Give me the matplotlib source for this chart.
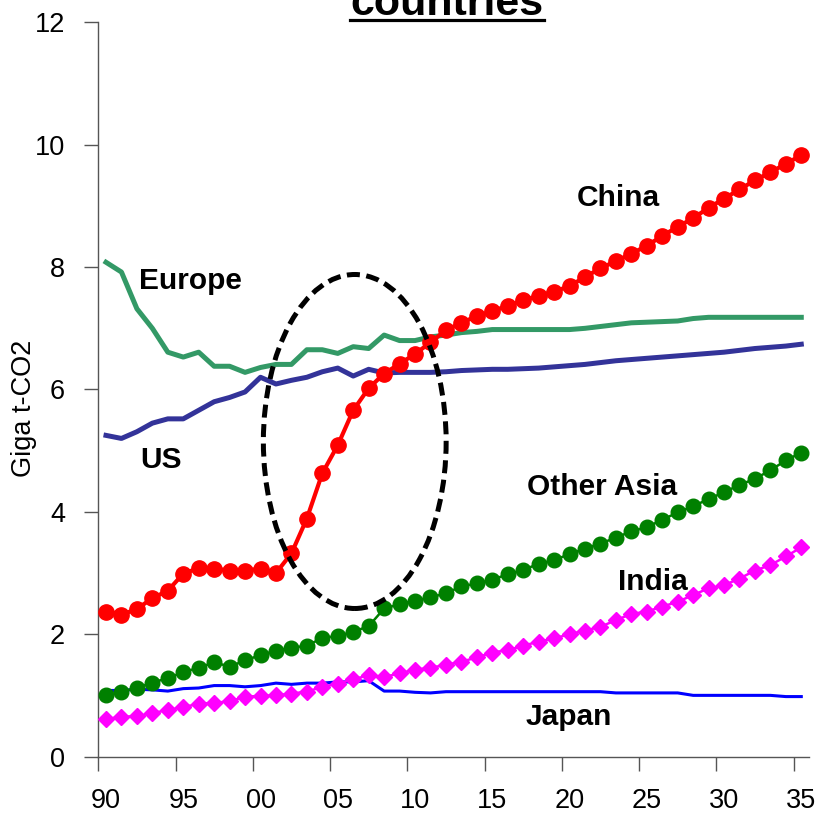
import matplotlib
matplotlib.use("Agg")
import matplotlib.pyplot as plt
from matplotlib.patches import Ellipse
from matplotlib.lines import Line2D

plt.rcParams['font.family'] = ['Liberation Sans', 'DejaVu Sans']

# años 1990..2035, etiquetas de dos cifras
years = list(range(1990, 2036))
tick_labels = ['90', '95', '00', '05', '10', '15', '20', '25', '30', '35']

# Giga t-CO2
europe = [8.08, 7.92, 7.32, 7.00, 6.61, 6.53, 6.61, 6.38, 6.38, 6.28,
          6.36, 6.41, 6.41, 6.65, 6.65, 6.59, 6.70, 6.67, 6.89, 6.80,
          6.80, 6.86, 6.89, 6.93, 6.95, 6.98, 6.98, 6.98, 6.98, 6.98,
          6.98, 7.00, 7.03, 7.06, 7.09, 7.10, 7.11, 7.12, 7.16, 7.18,
          7.18, 7.18, 7.18, 7.18, 7.18, 7.18]
us = [5.25, 5.20, 5.31, 5.45, 5.52, 5.52, 5.66, 5.80, 5.87, 5.96,
      6.20, 6.09, 6.15, 6.20, 6.29, 6.35, 6.22, 6.33, 6.27, 6.28,
      6.28, 6.28, 6.29, 6.31, 6.32, 6.33, 6.33, 6.34, 6.35, 6.37,
      6.39, 6.41, 6.44, 6.47, 6.49, 6.51, 6.53, 6.55, 6.57, 6.59,
      6.61, 6.64, 6.67, 6.69, 6.71, 6.74]
china = [2.37, 2.32, 2.41, 2.59, 2.71, 2.99, 3.08, 3.07, 3.04, 3.04,
         3.07, 3.00, 3.32, 3.89, 4.63, 5.09, 5.66, 6.02, 6.26, 6.42,
         6.58, 6.77, 6.97, 7.09, 7.20, 7.28, 7.37, 7.46, 7.53, 7.60,
         7.69, 7.84, 7.98, 8.10, 8.22, 8.35, 8.51, 8.66, 8.80, 8.97,
         9.12, 9.27, 9.42, 9.55, 9.69, 9.83]
other_asia = [1.00, 1.06, 1.12, 1.21, 1.28, 1.38, 1.45, 1.54, 1.47, 1.57,
              1.66, 1.73, 1.78, 1.81, 1.94, 1.97, 2.04, 2.13, 2.42, 2.49,
              2.55, 2.60, 2.67, 2.78, 2.83, 2.89, 2.98, 3.05, 3.15, 3.21,
              3.31, 3.40, 3.48, 3.58, 3.68, 3.75, 3.87, 3.99, 4.09, 4.21,
              4.32, 4.44, 4.54, 4.68, 4.84, 4.97]
india = [0.61, 0.65, 0.66, 0.71, 0.76, 0.81, 0.86, 0.88, 0.90, 0.98,
         0.99, 1.00, 1.03, 1.06, 1.14, 1.19, 1.26, 1.33, 1.30, 1.36,
         1.42, 1.45, 1.50, 1.55, 1.62, 1.70, 1.74, 1.81, 1.88, 1.93,
         2.00, 2.06, 2.12, 2.23, 2.33, 2.37, 2.45, 2.53, 2.64, 2.75,
         2.80, 2.91, 3.04, 3.13, 3.27, 3.42]
japan = [1.08, 1.08, 1.10, 1.09, 1.07, 1.11, 1.12, 1.16, 1.16, 1.14,
         1.16, 1.20, 1.18, 1.20, 1.20, 1.22, 1.22, 1.24, 1.07, 1.07,
         1.05, 1.04, 1.06, 1.06, 1.06, 1.06, 1.06, 1.06, 1.06, 1.06,
         1.06, 1.06, 1.06, 1.04, 1.04, 1.04, 1.04, 1.04, 1.00, 1.00,
         1.00, 1.00, 1.00, 1.00, 0.98, 0.98]

x = list(range(len(years)))

fig = plt.figure(figsize=(8.21, 8.14), dpi=100)
ax = fig.add_axes([0.1197, 0.0706, 0.8657, 0.9018])

# lineas sin marcador
ax.plot(x, europe, color='#339966', lw=3.6, zorder=2)
ax.plot(x, us, color='#333399', lw=3.6, zorder=2)
ax.plot(x, japan, color='#0000FF', lw=2.2, zorder=2)

# series con marcador
ax.plot(x, other_asia, color='#008000', lw=1.8, marker='o', ms=10.5,
        mec='#008000', zorder=3)
ax.plot(x, india, color='#FF00FF', lw=1.8, marker='D', ms=8,
        mec='#FF00FF', zorder=3)
ax.plot(x, china, color='#FF0000', lw=3, marker='o', ms=11,
        mec='#FF0000', zorder=4)

# elipse discontinua alrededor del salto de China
ax.add_patch(Ellipse((16.1, 5.15), 11.83, 5.46, fill=False, ec='black',
                     lw=3.6, ls=(0, (2.6, 1.3)), zorder=6))

# nombres de las series
lbl = dict(fontsize=21.5, fontweight='bold', ha='center', va='baseline',
           zorder=7)
ax.text(5.49, 7.65, 'Europe', **lbl)
ax.text(3.56, 4.71, 'US', **lbl)
ax.text(33.18, 9.0, 'China', **lbl)
ax.text(32.08, 4.27, 'Other Asia', **lbl)
ax.text(35.42, 2.73, 'India', **lbl)
ax.text(29.95, 0.51, 'Japan', **lbl)

# ejes
ax.set_xlim(-0.5, len(years) - 0.5)
ax.set_ylim(0, 12)
ax.set_yticks(range(0, 13, 2))
ax.set_xticks(x[::5])
ax.set_xticklabels(tick_labels)
ax.set_xticks([i - 0.5 for i in x[::5]], minor=True)
ax.tick_params(axis='x', which='major', length=0, pad=23, labelsize=19.5)
ax.tick_params(axis='x', which='minor', length=10, width=1,
               color='#555555', direction='out')
ax.tick_params(axis='y', length=10, width=1, color='#555555',
               direction='out', pad=14, labelsize=19.5)

for s in ['top', 'right']:
    ax.spines[s].set_visible(False)
for s in ['left', 'bottom']:
    ax.spines[s].set_color('#555555')
    ax.spines[s].set_linewidth(1)

fig.text(24 / 821, 1 - 477 / 814, 'Giga t-CO2', rotation=90, ha='center',
         va='bottom', fontsize=19.5)

# titulo cortado arriba, subrayado
ty = 1 - 15 / 814
t = fig.text(0.5445, ty, 'countries', ha='center', va='baseline',
             fontsize=31, fontweight='bold')
fig.canvas.draw()
bb = t.get_window_extent(fig.canvas.get_renderer())
W, H = fig.bbox.width, fig.bbox.height
uy = ty - 5 / H
fig.add_artist(Line2D([bb.x0 / W, bb.x1 / W], [uy, uy], color='black',
                      lw=2.3, transform=fig.transFigure))

fig.savefig('out.png', dpi=100, facecolor='white')
